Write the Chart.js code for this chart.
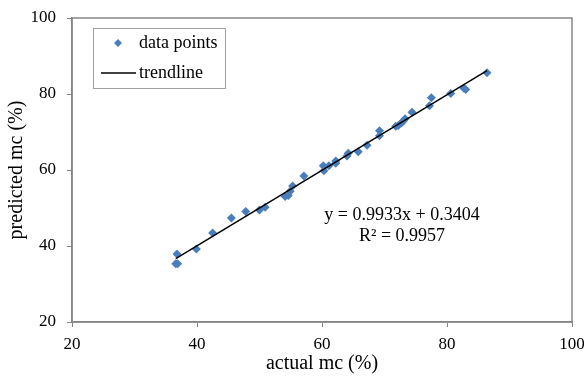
<!DOCTYPE html>
<html lang="en">
<head>
  <meta charset="UTF-8">
  <title>Predicted vs actual mc</title>
  <script src="https://cdn.jsdelivr.net/npm/chart.js"></script>
  <style>
    /* fixed size page, white background */
    body {
      margin: 0;
      background-color: #ffffff;
    }
    .chart-container {
      width: 584px;
      height: 376px;
    }
  </style>
</head>
<body>
  <div class="chart-container">
    <canvas id="mcChart"></canvas>
  </div>

  <script>
    // values
    const actualMc = [36.6, 36.9, 36.8, 39.9, 42.5, 45.5, 47.8, 50.0, 50.9, 54.1, 54.6, 54.9, 55.3, 57.1,
      60.2, 60.3, 61.1, 62.2, 62.2, 64.0, 64.2, 65.8, 67.2, 69.2, 69.2, 71.8, 72.2, 72.7, 73.0, 73.3,
      74.4, 77.2, 77.5, 80.6, 82.7, 83.0, 86.4];
    const predictedMc = [35.3, 35.3, 37.9, 39.2, 43.4, 47.4, 49.1, 49.5, 50.2, 53.0, 53.3, 54.4, 55.8, 58.4,
      61.1, 59.8, 61.1, 62.4, 61.8, 63.7, 64.4, 64.8, 66.5, 70.3, 69.0, 71.5, 71.7, 72.4, 72.9, 73.5,
      75.2, 76.9, 79.0, 80.1, 81.5, 81.2, 85.6];
    const slope = 0.9933;
    const intercept = 0.3404;
    const rSquared = 0.9957;
    const axisTicks = [20, 40, 60, 80, 100];

    const serif = "'Liberation Serif', 'Times New Roman', serif";
    const pointColor = '#4a7ebb';

    // trendline runs over the range of the data
    const xLo = Math.min(...actualMc);
    const xHi = Math.max(...actualMc);
    const trendPoints = [xLo, xHi].map(x => ({ x: x, y: slope * x + intercept }));

    // fixed box sizes so the plot area lands where the reference has it
    function fixBox(scale, key, size) {
      scale[key] = size;
      scale.paddingTop = 0;
      scale.paddingBottom = 0;
      scale.paddingLeft = 0;
      scale.paddingRight = 0;
    }

    // frame, legend box and equation text
    const decorPlugin = {
      id: 'decor',
      afterDraw(chart) {
        const ctx = chart.ctx;
        const a = chart.chartArea;
        ctx.save();
        ctx.strokeStyle = '#868686';
        ctx.lineWidth = 1.5;
        ctx.strokeRect(a.left, a.top, a.right - a.left, a.bottom - a.top);

        // legend
        ctx.strokeStyle = '#a0a0a0';
        ctx.lineWidth = 1;
        ctx.strokeRect(93.5, 28.5, 132, 60);
        ctx.fillStyle = pointColor;
        ctx.beginPath();
        ctx.moveTo(118, 39); ctx.lineTo(122, 43); ctx.lineTo(118, 47); ctx.lineTo(114, 43);
        ctx.closePath();
        ctx.fill();
        ctx.strokeStyle = '#000000';
        ctx.lineWidth = 1.5;
        ctx.beginPath();
        ctx.moveTo(101, 73); ctx.lineTo(136, 73);
        ctx.stroke();
        ctx.fillStyle = '#000000';
        ctx.font = '18px ' + serif;
        ctx.textBaseline = 'middle';
        ctx.textAlign = 'left';
        ctx.fillText('data points', 139, 43);
        ctx.fillText('trendline', 139, 73);

        // regression text
        ctx.textAlign = 'center';
        ctx.fillText('y = ' + slope.toFixed(4) + 'x + ' + intercept.toFixed(4), 402, 215);
        ctx.fillText('R\u00b2 = ' + rSquared.toFixed(4), 402, 236);
        ctx.restore();
      }
    };

    const ctx = document.getElementById('mcChart').getContext('2d');
    new Chart(ctx, {
      type: 'scatter',
      data: {
        datasets: [{
          label: 'data points',
          data: actualMc.map((x, i) => ({ x: x, y: predictedMc[i] })),
          pointStyle: 'rectRot',
          pointRadius: 4.5,
          pointBackgroundColor: pointColor,
          pointBorderColor: pointColor,
          pointBorderWidth: 0,
          order: 2
        }, {
          label: 'trendline',
          type: 'line',
          data: trendPoints,
          borderColor: '#000000',
          borderWidth: 1.5,
          pointRadius: 0,
          fill: false,
          order: 1
        }]
      },
      options: {
        responsive: true,
        maintainAspectRatio: false,
        animation: false,
        layout: {
          padding: { top: 18, right: 12, left: 0, bottom: 0 }
        },
        plugins: {
          legend: { display: false },
          tooltip: { enabled: false }
        },
        scales: {
          x: {
            type: 'linear',
            min: 20,
            max: 100,
            afterBuildTicks: s => { s.ticks = axisTicks.map(v => ({ value: v })); },
            afterFit: s => fixBox(s, 'height', 54),
            grid: { drawOnChartArea: false, drawTicks: true, tickLength: 5, color: '#868686' },
            border: { color: '#868686', width: 1.5 },
            ticks: { color: '#000000', font: { family: serif, size: 17 }, padding: 7 },
            title: { display: true, text: 'actual mc (%)', color: '#000000', font: { family: serif, size: 20 }, padding: 0 }
          },
          y: {
            type: 'linear',
            min: 20,
            max: 100,
            afterBuildTicks: s => { s.ticks = axisTicks.map(v => ({ value: v })); },
            afterFit: s => fixBox(s, 'width', 72),
            grid: { drawOnChartArea: false, drawTicks: true, tickLength: 5, color: '#868686' },
            border: { color: '#868686', width: 1.5 },
            ticks: { color: '#000000', font: { family: serif, size: 17 }, padding: 11 },
            title: { display: true, text: 'predicted mc (%)', color: '#000000', font: { family: serif, size: 20 }, padding: { top: 5, bottom: 0 } }
          }
        }
      },
      plugins: [decorPlugin]
    });
  </script>
</body>
</html>
